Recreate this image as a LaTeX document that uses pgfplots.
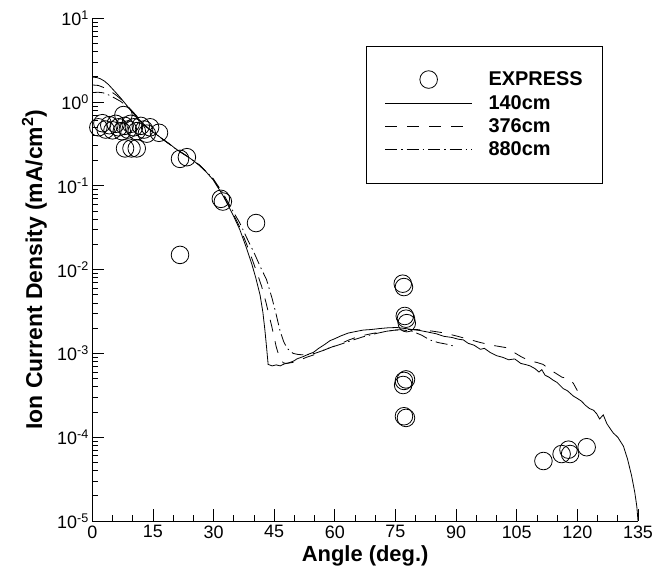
\documentclass[border=0pt]{standalone}
\usepackage{pgfplots}
\pgfplotsset{compat=1.18}
\usepackage{fontspec}
\setmainfont{Liberation Sans}
\pgfplotsset{mylegend/.style={legend image code/.code={\draw[mark repeat=2,mark phase=2,##1] plot coordinates {(0bp,0bp) (43.5bp,0bp) (87bp,0bp)};}}}
\begin{document}
\begin{tikzpicture}
\useasboundingbox (-92.3bp,-54bp) rectangle (560.7bp,521bp);
\begin{axis}[
  at={(0,0)}, anchor=south west,
  scale only axis, width=545.7bp, height=502.7bp,
  ymode=log, xmin=0, xmax=135, ymin=1e-5, ymax=10,
  axis x line=bottom, axis y line=left,
  axis line style={-, line width=1bp},
  xtick={0,15,...,135}, minor x tick num=2,
  ytick={1e-5,1e-4,1e-3,1e-2,1e-1,1,10},
  yticklabels={10\textsuperscript{-5},10\textsuperscript{-4},10\textsuperscript{-3},10\textsuperscript{-2},10\textsuperscript{-1},10\textsuperscript{0},10\textsuperscript{1}},
  /pgf/number format/assume math mode=true,
  tick align=inside, major tick length=12bp, minor tick length=6bp,
  tick style={line width=0.8bp, black},
  ticklabel style={font=\fontsize{18}{20}\selectfont},
  xticklabel style={yshift=-1bp},
  xlabel={Angle (deg.)},
  ylabel={Ion Current Density (mA/cm\textsuperscript{2})},
  xlabel style={font=\fontsize{22}{24}\selectfont\bfseries, at={(axis description cs:0.5,0)}, anchor=center, yshift=-35bp},
  ylabel style={font=\fontsize{23}{25}\selectfont\bfseries, at={(axis description cs:-0.106,0.5)}, anchor=center},
  mylegend,
  legend cell align=left,
  legend style={at={(0.936,0.945)}, anchor=north east, draw=black, line width=0.8bp,
    font=\fontsize{20}{22}\selectfont\bfseries, inner xsep=18bp, inner ysep=23.5bp,
    row sep=4bp, column sep=14bp},
]
\addplot[only marks, mark=o, mark size=8.8bp, mark options={line width=0.8bp, black}, mylegend]
  coordinates {
(1.5,0.50) (2.5,0.56) (3.3,0.47) (4.2,0.53) (5.0,0.46) (5.8,0.55) (6.5,0.50)
(7.3,0.45) (8.0,0.52) (8.8,0.47) (9.5,0.55) (10.3,0.50) (11.0,0.45) (12.0,0.52)
(12.8,0.47) (13.5,0.42) (14.3,0.50) (16.5,0.43) (7.7,0.70) (8.1,0.28) (9.7,0.28)
(11.0,0.28) (21.7,0.21) (23.4,0.22) (31.8,0.070) (32.3,0.065) (40.5,0.036)
(21.7,0.015) (76.8,0.0068) (77.1,0.0062) (77.6,0.0026) (77.3,0.0028) (77.8,0.0023)
(77.1,0.00047) (77.6,0.00049) (76.9,0.00042) (77.1,0.000178) (77.6,0.00017)
(111.6,5.2e-5) (116.1,6.3e-5) (117.8,7.1e-5) (118.2,6.3e-5) (122.3,7.6e-5)
};
\addlegendentry{EXPRESS}
\addplot[black, line width=0.8bp, no marks] coordinates {
(0,1.98) (1,1.97) (2,1.9) (3,1.78) (4,1.62) (5.2,1.40) (6,1.27) (7,1.12) (8,0.98)
(9.3,0.82) (10.5,0.70) (12,0.59) (13.5,0.50) (15,0.44) (16.5,0.39) (17.6,0.355)
(19,0.32) (20.5,0.28) (22,0.25) (23.5,0.225) (25,0.20) (26.5,0.175) (28,0.15)
(29.9,0.118) (31,0.097) (32.3,0.077) (33.5,0.060) (35,0.043) (36.5,0.030)
(38.2,0.0178) (39.5,0.0115) (40.5,0.0078) (41.5,0.0050) (42.2,0.0031) (42.7,0.0019)
(43.1,0.0012) (43.5,0.00074) (44.5,0.00071) (45.5,0.00073) (46.5,0.00071)
(47.5,0.00075) (48.9,0.00078) (50,0.00082) (50.6,0.00086) (52,0.00091)
(53.5,0.00098) (54.7,0.00103) (56,0.00115) (57.5,0.00128) (58.8,0.00142)
(60,0.00150) (61.5,0.00162) (63.3,0.00175) (65,0.00182) (67,0.00190) (69,0.00193)
(71,0.00198) (73,0.00202) (75.3,0.00204) (77.5,0.00198) (79.4,0.00192)
(81,0.00188) (83,0.00180) (85,0.00172) (87,0.00160) (89,0.00155) (90.5,0.00148)
(91.8,0.00145) (93,0.00132) (94.5,0.00125) (96,0.00112) (97,0.00115) (98.4,0.00103)
(100,0.00094) (101.5,0.00090) (103,0.00084) (104.5,0.00086) (106,0.00076)
(107.5,0.00073) (108.3,0.00071) (109.5,0.00066) (110.5,0.00060) (111.2,0.00064)
(112,0.00055) (113,0.00052) (114,0.00048) (115,0.00045) (116.5,0.00038)
(117.5,0.00036) (119,0.00031) (120,0.00029) (121,0.00027) (122,0.00024)
(123,0.00022) (124,0.00021) (124.8,0.00019) (125.5,0.000165) (126.4,0.000185)
(127.3,0.000145) (128.2,0.000125) (128.9,0.000112) (130,0.0001) (131.4,7.8e-5)
(132.4,5.5e-5) (133.4,3.5e-5) (134.2,2.2e-5) (134.7,1.5e-5) (135,1.0e-5)
};
\addlegendentry{140cm}
\addplot[black, line width=0.8bp, no marks, dash pattern=on 12bp off 10bp] coordinates {
(0,1.60) (1.5,1.58) (3,1.48) (4.5,1.35) (6,1.20) (7.5,1.04) (9,0.87) (10.5,0.71)
(12,0.59) (13.5,0.50) (15,0.44) (17.6,0.355) (20.5,0.28) (23.5,0.225) (26.5,0.177)
(29.9,0.12) (32.3,0.079) (35,0.045) (36.5,0.032) (38.2,0.020) (39.5,0.0135)
(40.8,0.0090) (41.9,0.0063) (43,0.0040) (44.4,0.0021) (45.5,0.0012) (46.4,0.00086)
(47.3,0.00077) (48.1,0.00076) (49.5,0.00078) (51,0.00082) (53,0.00090) (55,0.00097)
(57,0.00108) (59,0.00118) (61.3,0.0013) (63.5,0.00145) (66,0.0016) (69,0.00172)
(72,0.00182) (75,0.0019) (78,0.00194) (81,0.00192) (84,0.00185) (87,0.00176)
(90,0.00162) (93,0.00148) (96,0.00135) (99,0.00125) (102.5,0.00117) (104,0.00105)
(106,0.00092) (108,0.00082) (110,0.00078) (111.5,0.00074) (113.7,0.00062)
(116.2,0.00052) (118,0.00050) (119,0.00044) (120,0.00036)
};
\addlegendentry{376cm}
\addplot[black, line width=0.8bp, no marks, dash pattern=on 12bp off 4bp on 1.5bp off 4bp] coordinates {
(0,1.30) (1.5,1.31) (2.7,1.29) (4,1.22) (5.5,1.12) (7,1.02) (8.5,0.90) (10,0.77)
(11.5,0.64) (13,0.53) (15,0.44) (17.6,0.355) (20.5,0.28) (23.5,0.225) (26.5,0.178)
(29.9,0.122) (32.3,0.082) (35,0.048) (36.5,0.036) (38.2,0.024) (40,0.016)
(41.5,0.011) (43.1,0.0076) (44.5,0.0045) (45.5,0.0029) (46.4,0.0019) (47.3,0.0014)
(48.2,0.00115) (49.7,0.00100) (51,0.00097) (53,0.00096) (55,0.00100) (57,0.00108)
(59,0.00118) (61.3,0.00128) (64,0.00142) (67,0.00158) (70,0.00172) (73,0.00185)
(76,0.00192) (79,0.00185) (81.5,0.00165) (83.5,0.00145) (85.5,0.00135)
(88,0.00128) (90,0.00120)
};
\addlegendentry{880cm}
\end{axis}
\end{tikzpicture}
\end{document}
